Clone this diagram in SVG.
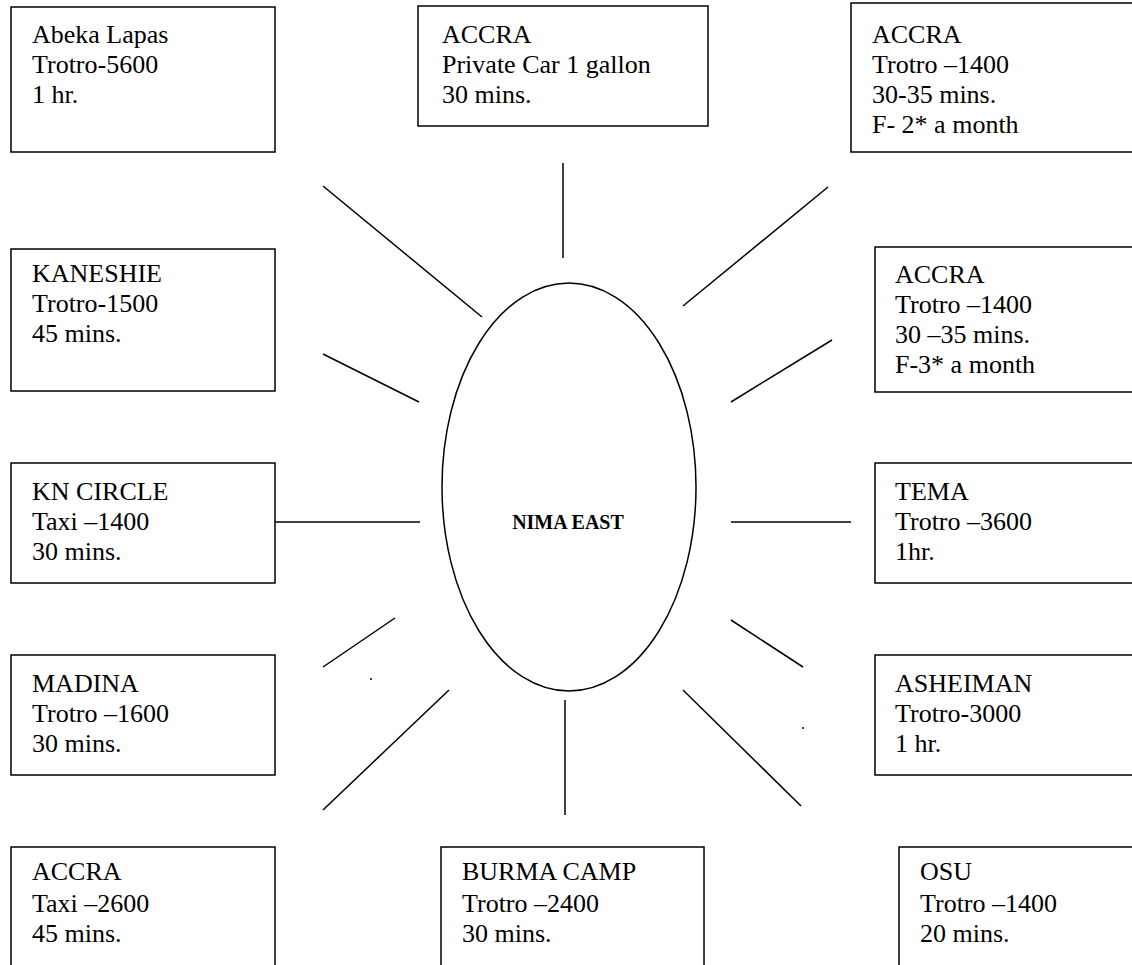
<svg xmlns="http://www.w3.org/2000/svg" width="1132" height="965" viewBox="0 0 1132 965">
<style>
.box{fill:#fff;stroke:#000;stroke-width:1.5}
.t{font-family:"Liberation Serif","Times New Roman",serif;font-size:26px;fill:#000}
.b{font-weight:bold;font-size:20px}
.c line{stroke:#000;stroke-width:1.5}
</style>
<rect width="1132" height="965" fill="#fff"/>
<g id="center"><ellipse cx="569" cy="487" rx="127" ry="204" fill="none" stroke="#000" stroke-width="1.5"/><text class="t b" x="568" y="529" text-anchor="middle">NIMA EAST</text></g>
<g id="connectors" class="c">
<line x1="323" y1="186" x2="482" y2="317"/>
<line x1="563" y1="163" x2="563" y2="258"/>
<line x1="683" y1="306" x2="828" y2="187"/>
<line x1="323" y1="354" x2="419" y2="402"/>
<line x1="731" y1="402" x2="832" y2="340"/>
<line x1="272" y1="522" x2="420" y2="522"/>
<line x1="731" y1="522" x2="851" y2="522"/>
<line x1="323" y1="667" x2="395" y2="618"/>
<line x1="731" y1="620" x2="803" y2="667"/>
<line x1="323" y1="810" x2="449" y2="690"/>
<line x1="565" y1="700" x2="565" y2="815"/>
<line x1="683" y1="690" x2="801" y2="806"/>
<circle cx="371" cy="679" r="1" fill="#000"/>
<circle cx="803" cy="728" r="1" fill="#000"/>
</g>
<g id="n1"><rect class="box" x="11" y="7" width="264" height="145"/><text class="t" x="32" y="43">Abeka Lapas</text><text class="t" x="32" y="73">Trotro-5600</text><text class="t" x="32" y="103">1 hr.</text></g>
<g id="n2"><rect class="box" x="418" y="6" width="290" height="120"/><text class="t" x="442" y="43">ACCRA</text><text class="t" x="442" y="73">Private Car 1 gallon</text><text class="t" x="442" y="103">30 mins.</text></g>
<g id="n3"><rect class="box" x="851" y="3" width="290" height="149"/><text class="t" x="872" y="43">ACCRA</text><text class="t" x="872" y="73">Trotro –1400</text><text class="t" x="872" y="103">30-35 mins.</text><text class="t" x="872" y="133">F- 2* a month</text></g>
<g id="n4"><rect class="box" x="11" y="249" width="264" height="142"/><text class="t" x="32" y="282">KANESHIE</text><text class="t" x="32" y="312">Trotro-1500</text><text class="t" x="32" y="342">45 mins.</text></g>
<g id="n5"><rect class="box" x="875" y="247" width="270" height="145"/><text class="t" x="895" y="283">ACCRA</text><text class="t" x="895" y="313">Trotro –1400</text><text class="t" x="895" y="343">30 –35 mins.</text><text class="t" x="895" y="373">F-3* a month</text></g>
<g id="n6"><rect class="box" x="11" y="463" width="264" height="120"/><text class="t" x="32" y="500">KN CIRCLE</text><text class="t" x="32" y="530">Taxi –1400</text><text class="t" x="32" y="560">30 mins.</text></g>
<g id="n7"><rect class="box" x="875" y="463" width="270" height="120"/><text class="t" x="895" y="500">TEMA</text><text class="t" x="895" y="530">Trotro –3600</text><text class="t" x="895" y="560">1hr.</text></g>
<g id="n8"><rect class="box" x="11" y="655" width="264" height="120"/><text class="t" x="32" y="692">MADINA</text><text class="t" x="32" y="722">Trotro –1600</text><text class="t" x="32" y="752">30 mins.</text></g>
<g id="n9"><rect class="box" x="875" y="655" width="270" height="120"/><text class="t" x="895" y="692">ASHEIMAN</text><text class="t" x="895" y="722">Trotro-3000</text><text class="t" x="895" y="752">1 hr.</text></g>
<g id="n10"><rect class="box" x="11" y="847" width="264" height="130"/><text class="t" x="32" y="880">ACCRA</text><text class="t" x="32" y="912">Taxi –2600</text><text class="t" x="32" y="942">45 mins.</text></g>
<g id="n11"><rect class="box" x="441" y="847" width="263" height="130"/><text class="t" x="462" y="880">BURMA CAMP</text><text class="t" x="462" y="912">Trotro –2400</text><text class="t" x="462" y="942">30 mins.</text></g>
<g id="n12"><rect class="box" x="899" y="847" width="250" height="130"/><text class="t" x="920" y="880">OSU</text><text class="t" x="920" y="912">Trotro –1400</text><text class="t" x="920" y="942">20 mins.</text></g>
</svg>
